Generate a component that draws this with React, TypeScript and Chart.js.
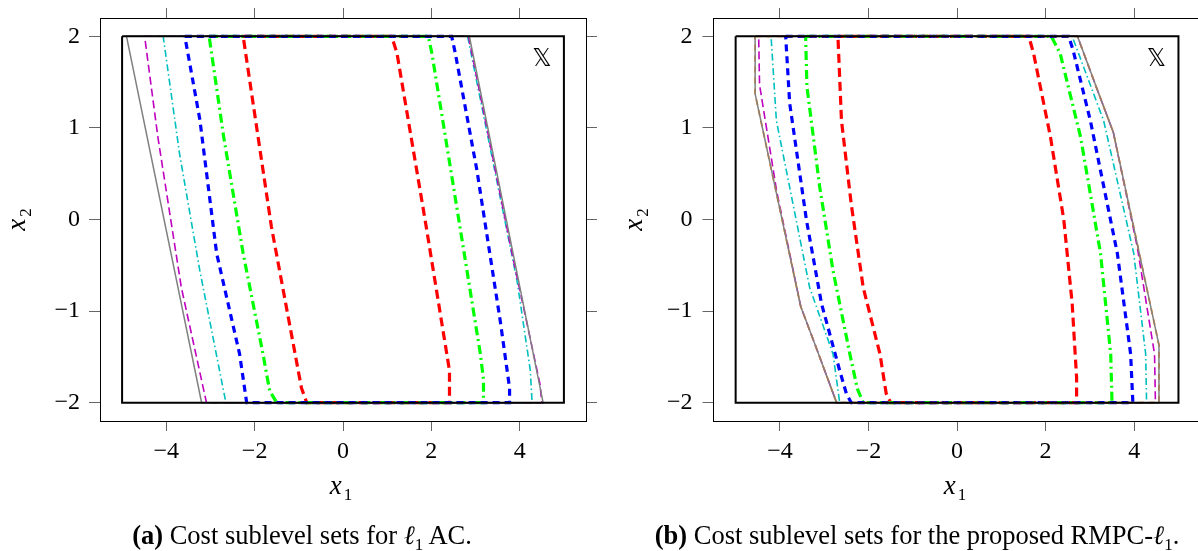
import React, { useEffect, useRef } from "react";
import { Chart, registerables } from "chart.js";

Chart.register(...registerables);

// ---------- ticks / ranges ----------
const X_TICKS = [-4, -2, 0, 2, 4];
const Y_TICKS = [-2, -1, 0, 1, 2];
const X_RANGE = [-5.5, 5.5];
const Y_RANGE = [-2.2, 2.2];

// ---------- state constraint set X ----------
const SET_X_X = [-5, 5, 5, -5];
const SET_X_Y = [2, 2, -2, -2];
const SET_LABEL_POS = [4.5, 1.74];

// ---------- (a) l1 AC sublevel sets ----------
const AC_GRAY_X = [-4.9, 2.86, 4.53, -3.2];
const AC_GRAY_Y = [2, 2, -2, -2];
const AC_MAGENTA_X = [-4.49, 2.84, 3.86, 4.46, 4.5, -3.09, -3.66, -4.19];
const AC_MAGENTA_Y = [2, 2, -0.45, -1.8, -2, -2, -0.74, 0.9];
const AC_CYAN_X = [-4.07, 2.82, 3.94, 4.24, 4.28, -2.65, -3.24, -3.7];
const AC_CYAN_Y = [2, 2, -0.67, -1.65, -2, -2, -0.56, 0.72];
const AC_BLUE_X = [-3.58, 2.46, 2.54, 3.03, 3.56, 3.77, 3.77, -2.18, -2.34, -2.86, -3.24];
const AC_BLUE_Y = [2, 2, 1.82, 0.54, -1.11, -1.84, -2, -2, -1.47, -0.37, 1.09];
const AC_GREEN_X = [-3.03, 1.93, 2.01, 2.5, 3.11, 3.18, 3.18, -1.5, -1.66, -1.81, -2.26, -2.7];
const AC_GREEN_Y = [2, 2, 1.82, 0.36, -1.47, -1.75, -2, -2, -1.87, -1.47, -0.37, 0.9];
const AC_RED_X = [-2.26, 1.1, 1.22, 1.86, 2.35, 2.41, 2.41, -0.82, -0.94, -1.62];
const AC_RED_Y = [2, 2, 1.82, -0.01, -1.47, -1.65, -2, -2, -1.84, -0.08];

// ---------- (b) RMPC-l1 sublevel sets ----------
const RM_OUTER_X = [-4.56, 2.72, 3.18, 3.53, 4.56, 4.56, -2.72, -3.18, -3.53, -4.56];
const RM_OUTER_Y = [2, 2, 1.4, 0.95, -1.37, -2, -2, -1.4, -0.95, 1.37];
const RM_MAGENTA_X = [-4.48, 2.72, 3.18, 3.53, 4.07, 4.46, 4.48, -2.72, -3.18, -3.53, -4.07, -4.46];
const RM_MAGENTA_Y = [2, 2, 1.4, 0.95, -0.3, -1.47, -2, -2, -1.4, -0.95, 0.3, 1.47];
const RM_CYAN_X = [-4.2, 2.6, 3.31, 3.99, 4.26, 4.28, -2.65, -2.8, -3.33, -4.08];
const RM_CYAN_Y = [2, 2, 1.08, -0.37, -1.47, -2, -2, -1.47, -0.74, 1.08];
const RM_BLUE_X = [-3.87, 2.52, 2.62, 3.01, 3.62, 3.92, 3.97, -2.39, -2.5, -2.65, -3.06, -3.4, -3.78];
const RM_BLUE_Y = [2, 2, 1.85, 1.08, -0.37, -1.47, -2, -2, -1.9, -1.65, -0.92, -0.01, 1.27];
const RM_GREEN_X = [-3.42, 2.13, 2.33, 2.79, 3.24, 3.47, 3.5, -2.12, -2.25, -2.42, -2.8, -3.1, -3.39];
const RM_GREEN_Y = [2, 2, 1.81, 0.9, -0.37, -1.47, -2, -2, -1.85, -1.47, -0.56, 0.35, 1.45];
const RM_RED_X = [-2.69, 1.62, 1.73, 2.11, 2.41, 2.6, 2.7, 2.7, -1.5, -1.6, -1.74, -2.12, -2.39, -2.61];
const RM_RED_Y = [2, 2, 1.81, 0.9, 0, -0.92, -1.73, -2, -2, -1.9, -1.47, -0.74, 0.17, 1.08];

// ---------- styles ----------
const GRAY = "#808080";
const MAGENTA = "#BF00BF";
const CYAN = "#00BFBF";
const BLUE = "#0000FF";
const GREEN = "#00FF00";
const RED = "#FF0000";
const ORANGE = "#FF8000";
const SERIF = "'Liberation Serif', 'Times New Roman', serif";

type Poly = { xs: number[]; ys: number[]; color: string; width: number; dash: number[] };

const closed = (xs: number[], ys: number[]) => {
  const pts = xs.map((x, i) => ({ x, y: ys[i] }));
  pts.push({ x: xs[0], y: ys[0] });
  return pts;
};

const fmt = (v: number) => (v < 0 ? "\u2212" + Math.abs(v) : String(v));

function buildConfig(polys: Poly[], layout: any): any {
  const datasets = [
    {
      data: closed(SET_X_X, SET_X_Y),
      borderColor: "#000",
      borderWidth: 2,
      showLine: true,
      pointRadius: 0,
      fill: false,
    },
    ...polys.map((p) => ({
      data: closed(p.xs, p.ys),
      borderColor: p.color,
      borderWidth: p.width,
      borderDash: p.dash,
      showLine: true,
      pointRadius: 0,
      fill: false,
      tension: 0,
    })),
  ];

  const tickGrid = { drawOnChartArea: false, drawTicks: true, tickLength: 11, color: "#666", lineWidth: 1 };
  const border = { display: true, color: "#000", width: 1 };
  const tickFont = { family: SERIF, size: 24 };

  const noPad = (s: any) => {
    s.paddingTop = 0;
    s.paddingBottom = 0;
    s.paddingLeft = 0;
    s.paddingRight = 0;
  };

  const titlePlugin = {
    id: "titles" + layout.id,
    afterDraw(chart: any) {
      const ctx = chart.ctx;
      const xs = chart.scales.x;
      const ys = chart.scales.y;
      ctx.save();
      ctx.fillStyle = "#000";
      ctx.textBaseline = "alphabetic";
      // x1 title
      const cx = (chart.chartArea.left + chart.chartArea.right) / 2 - 2;
      ctx.font = `italic 27px ${SERIF}`;
      const wx = ctx.measureText("x").width;
      ctx.font = `17px ${SERIF}`;
      const w1 = ctx.measureText("1").width;
      const start = cx - (wx + 2 + w1) / 2;
      ctx.font = `italic 27px ${SERIF}`;
      ctx.textAlign = "left";
      ctx.fillText("x", start, 494);
      ctx.font = `17px ${SERIF}`;
      ctx.fillText("1", start + wx + 2, 500);
      // x2 title (rotated)
      const cy = (chart.chartArea.top + chart.chartArea.bottom) / 2;
      ctx.translate(layout.yTitleX, cy);
      ctx.rotate(-Math.PI / 2);
      ctx.font = `italic 27px ${SERIF}`;
      const wx2 = ctx.measureText("x").width;
      ctx.font = `17px ${SERIF}`;
      const w2 = ctx.measureText("2").width;
      const s2 = -(wx2 + 2 + w2) / 2;
      ctx.font = `italic 27px ${SERIF}`;
      ctx.fillText("x", s2, 0);
      ctx.font = `17px ${SERIF}`;
      ctx.fillText("2", s2 + wx2 + 2, 6);
      ctx.restore();
      // set label
      ctx.save();
      ctx.fillStyle = "#000";
      ctx.font = `24px 'DejaVu Sans', sans-serif`;
      ctx.textAlign = "center";
      ctx.textBaseline = "middle";
      ctx.fillText("\u{1D54F}", xs.getPixelForValue(SET_LABEL_POS[0]), ys.getPixelForValue(SET_LABEL_POS[1]));
      ctx.restore();
    },
  };

  return {
    type: "scatter",
    data: { datasets },
    plugins: [titlePlugin],
    options: {
      animation: false,
      responsive: false,
      events: [],
      layout: { padding: 0 },
      plugins: { legend: { display: false }, tooltip: { enabled: false } },
      scales: {
        x: {
          type: "linear",
          position: "bottom",
          min: X_RANGE[0],
          max: X_RANGE[1],
          afterBuildTicks: (s: any) => {
            s.ticks = X_TICKS.map((v) => ({ value: v }));
          },
          afterFit: (s: any) => {
            s.height = layout.bottom;
            noPad(s);
          },
          grid: { ...tickGrid, tickLength: 10 },
          border,
          ticks: { font: tickFont, color: "#000", padding: 6, maxRotation: 0, callback: (v: number) => fmt(v) },
        },
        x2: {
          type: "linear",
          position: "top",
          min: X_RANGE[0],
          max: X_RANGE[1],
          afterBuildTicks: (s: any) => {
            s.ticks = X_TICKS.map((v) => ({ value: v }));
          },
          afterFit: (s: any) => {
            s.height = layout.top;
            noPad(s);
          },
          grid: { ...tickGrid, tickLength: 10 },
          border,
          ticks: { display: false },
        },
        y: {
          type: "linear",
          position: "left",
          min: Y_RANGE[0],
          max: Y_RANGE[1],
          afterBuildTicks: (s: any) => {
            s.ticks = Y_TICKS.map((v) => ({ value: v }));
          },
          afterFit: (s: any) => {
            s.width = layout.left;
            noPad(s);
          },
          grid: tickGrid,
          border,
          ticks: { font: tickFont, color: "#000", padding: layout.yPad, callback: (v: number) => fmt(v) },
        },
        y2: {
          type: "linear",
          position: "right",
          min: Y_RANGE[0],
          max: Y_RANGE[1],
          afterBuildTicks: (s: any) => {
            s.ticks = Y_TICKS.map((v) => ({ value: v }));
          },
          afterFit: (s: any) => {
            s.width = layout.right;
            noPad(s);
          },
          grid: tickGrid,
          border,
          ticks: { display: false },
        },
      },
    },
  };
}

const AC_POLYS: Poly[] = [
  { xs: AC_GRAY_X, ys: AC_GRAY_Y, color: GRAY, width: 1.5, dash: [] },
  { xs: AC_MAGENTA_X, ys: AC_MAGENTA_Y, color: MAGENTA, width: 1.6, dash: [8, 4] },
  { xs: AC_CYAN_X, ys: AC_CYAN_Y, color: CYAN, width: 1.6, dash: [7, 3, 1.5, 3] },
  { xs: AC_BLUE_X, ys: AC_BLUE_Y, color: BLUE, width: 3.2, dash: [7, 5] },
  { xs: AC_GREEN_X, ys: AC_GREEN_Y, color: GREEN, width: 3.2, dash: [9, 4, 2, 4] },
  { xs: AC_RED_X, ys: AC_RED_Y, color: RED, width: 3.2, dash: [9, 5] },
];

const RM_POLYS: Poly[] = [
  { xs: RM_OUTER_X, ys: RM_OUTER_Y, color: GRAY, width: 1.5, dash: [] },
  { xs: RM_OUTER_X, ys: RM_OUTER_Y, color: ORANGE, width: 1.8, dash: [6, 5] },
  { xs: RM_MAGENTA_X, ys: RM_MAGENTA_Y, color: MAGENTA, width: 1.6, dash: [8, 4] },
  { xs: RM_CYAN_X, ys: RM_CYAN_Y, color: CYAN, width: 1.6, dash: [7, 3, 1.5, 3] },
  { xs: RM_BLUE_X, ys: RM_BLUE_Y, color: BLUE, width: 3.2, dash: [7, 5] },
  { xs: RM_GREEN_X, ys: RM_GREEN_Y, color: GREEN, width: 3.2, dash: [9, 4, 2, 4] },
  { xs: RM_RED_X, ys: RM_RED_Y, color: RED, width: 3.2, dash: [9, 5] },
];

function Panel(props: { polys: Poly[]; layout: any; left: number; width: number }) {
  const ref = useRef<HTMLCanvasElement | null>(null);
  useEffect(() => {
    if (!ref.current) return;
    const chart = new Chart(ref.current, buildConfig(props.polys, props.layout));
    return () => chart.destroy();
  }, []);
  return (
    <canvas
      ref={ref}
      width={props.width}
      height={551}
      style={{ position: "absolute", left: props.left, top: 0, width: props.width, height: 551 }}
    />
  );
}

const captionStyle = (center: number): React.CSSProperties => ({
  position: "absolute",
  left: center - 320,
  width: 640,
  top: 520,
  textAlign: "center",
  fontFamily: SERIF,
  fontSize: 26.5,
  lineHeight: "30px",
  color: "#000",
  whiteSpace: "nowrap",
});

const subStyle: React.CSSProperties = { fontSize: 17, position: "relative", top: 6 };

export default function App() {
  return (
    <div
      style={{
        position: "fixed",
        left: 0,
        top: 0,
        width: 1198,
        height: 551,
        overflow: "hidden",
        background: "#fff",
      }}
    >
      <Panel
        polys={AC_POLYS}
        left={0}
        width={600}
        layout={{ id: "a", left: 100, right: 14, top: 18, bottom: 130, yPad: 9, yTitleX: 25 }}
      />
      <Panel
        polys={RM_POLYS}
        left={600}
        width={620}
        layout={{ id: "b", left: 113.5, right: 19.4, top: 18, bottom: 130, yPad: 10, yTitleX: 42 }}
      />
      <div style={captionStyle(302)}>
        <b>(a)</b> Cost sublevel sets for <span style={{ fontStyle: "italic" }}>ℓ</span>
        <span style={subStyle}>1</span> AC.
      </div>
      <div style={captionStyle(917)}>
        <b>(b)</b> Cost sublevel sets for the proposed RMPC-<span style={{ fontStyle: "italic" }}>ℓ</span>
        <span style={subStyle}>1</span>.
      </div>
    </div>
  );
}
